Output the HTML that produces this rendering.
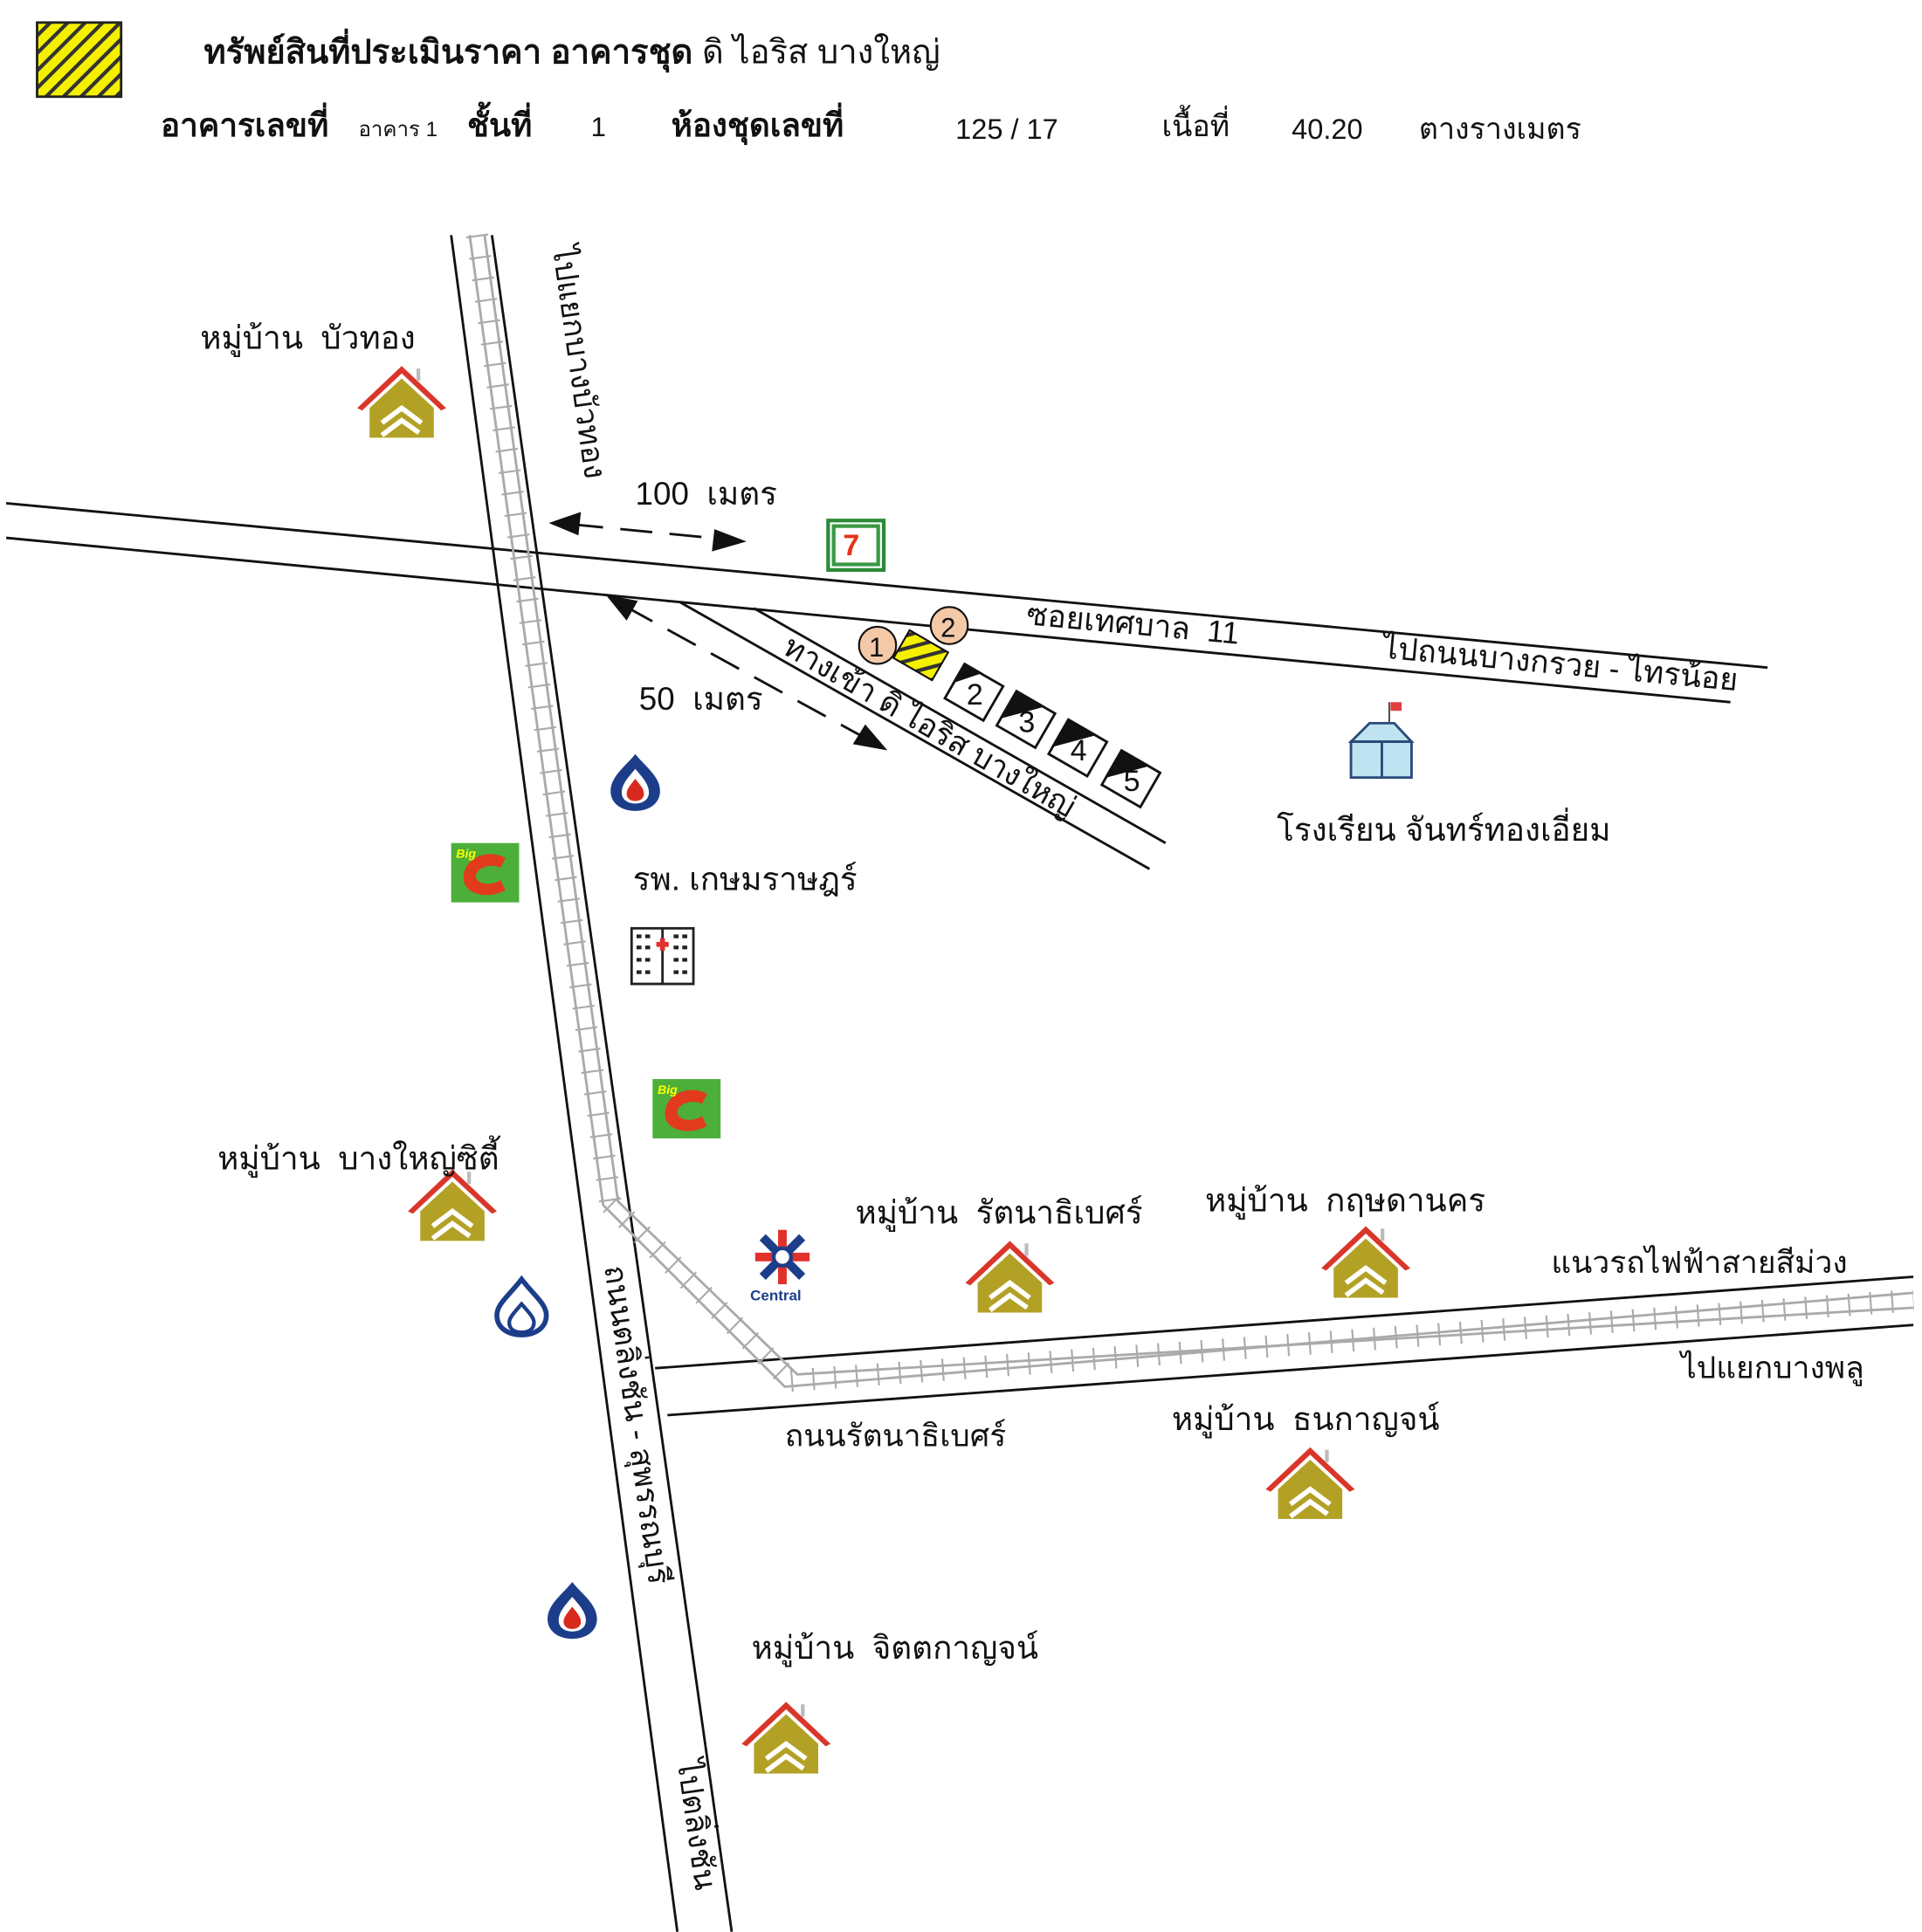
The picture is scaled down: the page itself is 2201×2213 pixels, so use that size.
<!DOCTYPE html>
<html><head><meta charset="utf-8">
<style>
html,body{margin:0;padding:0;background:#fff;}
svg{display:block;}
text{font-family:"Liberation Sans","Noto Sans CJK SC","WenQuanYi Zen Hei",sans-serif;fill:#111;white-space:pre;}
</style></head>
<body>
<svg width="2201" height="2213" viewBox="0 0 1555 1563" xmlns="http://www.w3.org/2000/svg">
<defs>
<pattern id="hatch" width="10" height="10" patternUnits="userSpaceOnUse" patternTransform="rotate(45)">
<rect width="10" height="10" fill="#f4f000"/><rect width="3" height="10" fill="#333"/>
</pattern>
<g id="house">
<polygon points="-36,8 0,-26 36,8 32,10 0,-20 -32,10" fill="#d9362a"/>
<polygon points="-26,8 0,-16 26,8 26,32 -26,32" fill="#b3a126"/>
<polyline points="-16,20 0,8 16,20" fill="none" stroke="#fff" stroke-width="4"/>
<polyline points="-16,30 0,18 14,28" fill="none" stroke="#fff" stroke-width="4"/>
<rect x="12" y="-24" width="3" height="10" fill="#bbb"/>
</g>
<g id="pump">
<path d="M0,-22 C8,-12 20,-4 20,8 C20,18 11,24 0,24 C-11,24 -20,18 -20,8 C-20,-4 -8,-12 0,-22Z" fill="#1c3e8a"/>
<path d="M0,-10 C5,-4 11,2 11,9 C11,15 6,18 0,18 C-6,18 -11,15 -11,9 C-11,2 -5,-4 0,-10Z" fill="#fff"/>
<path d="M0,-2 C3,2 7,6 7,10 C7,14 4,16 0,16 C-4,16 -7,14 -7,10 C-7,6 -3,2 0,-2Z" fill="#d8291e"/>
</g>
<g id="bigc">
<rect x="0" y="0" width="55" height="48" fill="#4caf3a"/>
<path d="M44,12 C30,4 10,12 10,28 C10,42 30,46 44,38 L40,30 C30,36 20,32 20,27 C20,20 32,16 40,20Z" fill="#e23b1c"/>
<text x="4" y="12" font-size="10" font-style="italic" font-weight="bold" style="fill:#ff0">Big</text>
</g>
</defs>

<!-- Header -->
<rect x="30" y="18" width="68" height="60" fill="url(#hatch)" stroke="#222" stroke-width="2"/>
<text x="165" y="51" font-size="27"><tspan font-weight="bold">ทรัพย์สินที่ประเมินราคา อาคารชุด</tspan> ดิ ไอริส บางใหญ่</text>
<text x="130" y="110" font-size="26" font-weight="bold">อาคารเลขที่</text>
<text x="290" y="110" font-size="17">อาคาร 1</text>
<text x="378" y="110" font-size="26" font-weight="bold">ชั้นที่</text>
<text x="478" y="110" font-size="22">1</text>
<text x="543" y="110" font-size="26" font-weight="bold">ห้องชุดเลขที่</text>
<text x="773" y="112" font-size="23">125 / 17</text>
<text x="940" y="110" font-size="24">เนื้อที่</text>
<text x="1045" y="112" font-size="23">40.20</text>
<text x="1148" y="112" font-size="24">ตางรางเมตร</text>

<!-- Roads -->
<g stroke="#111" stroke-width="2" fill="none">
<line x1="365" y1="190" x2="548" y2="1563"/>
<line x1="398" y1="190" x2="592" y2="1563"/>
<line x1="5" y1="407" x2="1430" y2="540"/>
<line x1="5" y1="435" x2="1400" y2="568"/>
<line x1="530" y1="1107" x2="1548" y2="1033"/>
<line x1="540" y1="1145" x2="1548" y2="1072"/>
<line x1="550" y1="487" x2="930" y2="703"/>
<line x1="610" y1="492" x2="943" y2="682"/>
</g>
<!-- Railway -->
<g stroke="#aaa" stroke-width="2" fill="none">
<polyline points="380,190 488,975 635,1122 1548,1046"/>
<polyline points="392,190 500,972 645,1112 1548,1058"/>
</g>
<g stroke="#aaa" stroke-width="18" stroke-dasharray="1.5,16" fill="none">
<line x1="386" y1="190" x2="494" y2="974"/>
<line x1="494" y1="974" x2="640" y2="1117"/>
<line x1="640" y1="1117" x2="1548" y2="1052"/>
</g>

<!-- dashed arrows -->
<g stroke="#111" stroke-width="2" stroke-dasharray="26,14">
<line x1="462" y1="424" x2="585" y2="436"/>
<line x1="505" y1="490" x2="700" y2="597"/>
</g>
<polygon points="444,423 470,414 468,433" fill="#111"/>
<polygon points="604,438 578,428 576,446" fill="#111"/>
<polygon points="490,481 516,486 507,502" fill="#111"/>
<polygon points="718,607 690,602 700,586" fill="#111"/>
<text x="514" y="408" font-size="26">100  เมตร</text>
<text x="517" y="574" font-size="26">50  เมตร</text>

<!-- road labels -->
<text transform="translate(447,200) rotate(82)" font-size="25">ไปแยกบางบัวทอง</text>
<text transform="translate(489,1025) rotate(82)" font-size="25">ถนนตลิ่งชัน - สุพรรณบุรี</text>
<text transform="translate(548,1425) rotate(82)" font-size="25">ไปตลิ่งชัน</text>
<text transform="translate(830,505) rotate(5.3)" font-size="25">ซอยเทศบาล  11</text>
<text transform="translate(1118,532) rotate(5.3)" font-size="25">ไปถนนบางกรวย - ไทรน้อย</text>
<text transform="translate(632,528) rotate(30)" font-size="25">ทางเข้า ดิ ไอริส บางใหญ่</text>
<text x="1255" y="1030" font-size="25">แนวรถไฟฟ้าสายสีม่วง</text>
<text x="1360" y="1115" font-size="25">ไปแยกบางพลู</text>
<text x="635" y="1170" font-size="25">ถนนรัตนาธิเบศร์</text>

<!-- units -->
<g transform="translate(745,530) rotate(30)">
<rect x="-18" y="-13" width="36" height="26" fill="url(#hatch)" stroke="#111" stroke-width="1.5"/>
</g>
<g stroke="#111" stroke-width="2">
<g transform="translate(788,560) rotate(30)"><rect x="-18" y="-16" width="36" height="32" fill="#fff"/><polygon points="-18,-16 -4,-16 -18,0" fill="#111"/></g>
<g transform="translate(830,582) rotate(30)"><rect x="-18" y="-16" width="36" height="32" fill="#fff"/><polygon points="-18,-16 6,-16 -18,8" fill="#111"/></g>
<g transform="translate(872,605) rotate(30)"><rect x="-18" y="-16" width="36" height="32" fill="#fff"/><polygon points="-18,-16 6,-16 -18,8" fill="#111"/></g>
<g transform="translate(915,630) rotate(30)"><rect x="-18" y="-16" width="36" height="32" fill="#fff"/><polygon points="-18,-16 6,-16 -18,8" fill="#111"/></g>
</g>
<text x="782" y="570" font-size="24">2</text>
<text x="824" y="592" font-size="24">3</text>
<text x="866" y="615" font-size="24">4</text>
<text x="909" y="640" font-size="24">5</text>
<circle cx="710" cy="522" r="15" fill="#f4c9a8" stroke="#111" stroke-width="1.5"/>
<text x="703" y="531" font-size="22">1</text>
<circle cx="768" cy="506" r="15" fill="#f4c9a8" stroke="#111" stroke-width="1.5"/>
<text x="761" y="515" font-size="22">2</text>

<!-- 7-eleven -->
<rect x="670" y="421" width="45" height="40" fill="#fff" stroke="#2c8a3a" stroke-width="3"/>
<rect x="673" y="424" width="39" height="34" fill="#3a9a45"/>
<rect x="676" y="427" width="33" height="28" fill="#fff"/>
<text x="682" y="449" font-size="24" font-weight="bold" style="fill:#e5321b">7</text>

<!-- school -->
<g stroke="#2a4a7a" stroke-width="2" fill="#bfe3f0">
<polygon points="1093,600 1108,585 1128,585 1142,600"/>
<rect x="1093" y="600" width="49" height="29"/>
<line x1="1118" y1="600" x2="1118" y2="629"/>
</g>
<line x1="1124" y1="568" x2="1124" y2="585" stroke="#555" stroke-width="1.5"/>
<rect x="1125" y="568" width="9" height="7" fill="#e04040"/>
<text x="1033" y="680" font-size="26">โรงเรียน จันทร์ทองเอี่ยม</text>

<!-- hospital -->
<g stroke="#222" stroke-width="2" fill="#fff">
<rect x="511" y="751" width="50" height="45"/>
<line x1="536" y1="751" x2="536" y2="796"/>
</g>
<g fill="#222">
<rect x="515" y="756" width="4" height="3"/><rect x="522" y="756" width="4" height="3"/><rect x="545" y="756" width="4" height="3"/><rect x="552" y="756" width="4" height="3"/>
<rect x="515" y="765" width="4" height="3"/><rect x="522" y="765" width="4" height="3"/><rect x="545" y="765" width="4" height="3"/><rect x="552" y="765" width="4" height="3"/>
<rect x="515" y="775" width="4" height="3"/><rect x="522" y="775" width="4" height="3"/><rect x="545" y="775" width="4" height="3"/><rect x="552" y="775" width="4" height="3"/>
<rect x="515" y="785" width="4" height="3"/><rect x="522" y="785" width="4" height="3"/><rect x="545" y="785" width="4" height="3"/><rect x="552" y="785" width="4" height="3"/>
</g>
<rect x="531" y="762" width="10" height="4" fill="#e03030"/><rect x="534" y="759" width="4" height="10" fill="#e03030"/>
<text x="512" y="720" font-size="26">รพ. เกษมราษฎร์</text>

<!-- pumps -->
<use href="#pump" x="514" y="632"/>
<use href="#pump" x="463" y="1302"/>
<!-- Bangkok bank -->
<path d="M422,1035 C432,1048 442,1055 442,1064 C442,1075 432,1080 422,1080 C412,1080 402,1075 402,1064 C402,1055 412,1048 422,1035Z" fill="none" stroke="#1c3e8a" stroke-width="4"/>
<path d="M422,1055 C428,1062 432,1066 432,1070 C432,1076 427,1078 422,1078 C417,1078 412,1076 412,1070 C412,1066 416,1062 422,1055Z" fill="none" stroke="#1c3e8a" stroke-width="3"/>

<!-- Big C -->
<use href="#bigc" x="365" y="682"/>
<use href="#bigc" x="528" y="873"/>

<!-- Central -->
<g transform="translate(633,1017)" stroke="#e0312a" stroke-width="7">
<line x1="-22" y1="0" x2="22" y2="0"/><line x1="0" y1="-22" x2="0" y2="22"/>
<line x1="-16" y1="-16" x2="16" y2="16" stroke="#1c3e8a"/><line x1="-16" y1="16" x2="16" y2="-16" stroke="#1c3e8a"/>
<circle r="7" fill="#fff" stroke="#1c3e8a" stroke-width="3"/>
</g>
<text x="607" y="1052" font-size="12" font-weight="bold" style="fill:#1c3e8a">Central</text>

<!-- houses -->
<use href="#house" x="325" y="322"/>
<use href="#house" x="366" y="972"/>
<use href="#house" x="817" y="1030"/>
<use href="#house" x="1105" y="1018"/>
<use href="#house" x="1060" y="1197"/>
<use href="#house" x="636" y="1403"/>

<text x="162" y="282" font-size="26">หมู่บ้าน  บัวทอง</text>
<text x="176" y="946" font-size="26">หมู่บ้าน  บางใหญ่ซิตี้</text>
<text x="692" y="990" font-size="26">หมู่บ้าน  รัตนาธิเบศร์</text>
<text x="975" y="980" font-size="26">หมู่บ้าน  กฤษดานคร</text>
<text x="948" y="1157" font-size="26">หมู่บ้าน  ธนกาญจน์</text>
<text x="608" y="1342" font-size="26">หมู่บ้าน  จิตตกาญจน์</text>
</svg>
</body></html>
